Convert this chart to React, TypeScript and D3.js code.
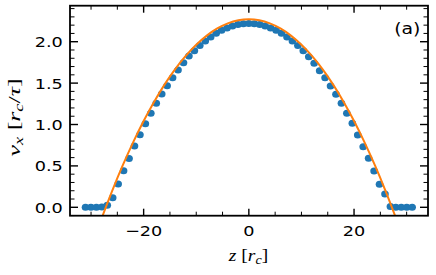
import React from "react";
import * as d3 from "d3";

// measured profile: positions z (in r_c) and velocities v_x (in r_c/tau)
const zValues = [
  -31.05, -30.02, -28.98, -27.95, -26.91, -25.88, -24.84, -23.81, -22.77, -21.74,
  -20.7, -19.67, -18.63, -17.6, -16.56, -15.53, -14.49, -13.46, -12.42, -11.39,
  -10.35, -9.32, -8.28, -7.25, -6.21, -5.18, -4.14, -3.11, -2.07, -1.04,
  0,
  1.04, 2.07, 3.11, 4.14, 5.18, 6.21, 7.25, 8.28, 9.32, 10.35,
  11.39, 12.42, 13.46, 14.49, 15.53, 16.56, 17.6, 18.63, 19.67, 20.7,
  21.74, 22.77, 23.81, 24.84, 25.88, 26.91, 27.95, 28.98, 30.02, 31.05,
];
const vValues = [
  0, 0, 0, 0.005, 0.025, 0.116, 0.28, 0.44, 0.59, 0.74,
  0.877, 1.01, 1.135, 1.256, 1.368, 1.469, 1.565, 1.658, 1.746, 1.827,
  1.89, 1.953, 2.009, 2.058, 2.101, 2.137, 2.167, 2.19, 2.207, 2.217,
  2.22,
  2.217, 2.207, 2.19, 2.167, 2.137, 2.101, 2.058, 2.009, 1.953, 1.89,
  1.819, 1.739, 1.65, 1.565, 1.465, 1.365, 1.256, 1.135, 1.014, 0.873,
  0.732, 0.592, 0.438, 0.278, 0.161, 0.01, 0, 0, 0, 0,
];

// fitted curve (orange)
const fitZ = [-30, -28, -26, -24, -22, -20, -18, -16, -14, -12, -10, -8, -6, -4, -2, 0,
  2, 4, 6, 8, 10, 12, 14, 16, 18, 20, 22, 24, 26, 28, 30];
const fitV = [-0.491, -0.136, 0.196, 0.503, 0.785, 1.043, 1.276, 1.485, 1.669, 1.828, 1.963,
  2.074, 2.16, 2.221, 2.258, 2.27, 2.258, 2.221, 2.16, 2.074, 1.963, 1.828, 1.669, 1.485,
  1.276, 1.043, 0.785, 0.503, 0.196, -0.136, -0.491];

const xMajorTicks = [-20, 0, 20];
const xMajorLabels = ["\u221220", "0", "20"];
const xMinorTicks = [-30, -25, -15, -10, -5, 5, 10, 15, 25, 30];
const yMajorTicks = [0, 0.5, 1.0, 1.5, 2.0];
const yMajorLabels = ["0.0", "0.5", "1.0", "1.5", "2.0"];
const yMinorTicks = [-0.1, 0.1, 0.2, 0.3, 0.4, 0.6, 0.7, 0.8, 0.9, 1.1, 1.2, 1.3, 1.4,
  1.6, 1.7, 1.8, 1.9, 2.1, 2.2, 2.3, 2.4];

const W = 436;
const H = 275;
const L = 70, R = 428, T = 5.7, B = 215.7;
const SX = 1.22; // horizontal text stretch seen in the reference

export default function App() {
  const x = d3.scaleLinear().domain([-34.0, 34.06]).range([L, R]);
  const y = d3.scaleLinear().domain([-0.1015, 2.435]).range([B, T]);
  const line = d3
    .line<number>()
    .x((_, i) => x(fitZ[i]))
    .y((d) => y(d))
    .curve(d3.curveCatmullRom);

  const majLenV = 7, minLenV = 4;
  const majLenH = 8, minLenH = 4.5;
  const tickFont = 14.5;

  return (
    <svg
      width={W}
      height={H}
      style={{ position: "absolute", left: 0, top: 0, background: "#fff" }}
      fontFamily="DejaVu Sans"
    >
      <defs>
        <clipPath id="plotclip">
          <rect x={L} y={T} width={R - L} height={B - T} />
        </clipPath>
      </defs>
      <rect x={0} y={0} width={W} height={H} fill="#fff" />

      <g clipPath="url(#plotclip)">
        {zValues.map((z, i) => (
          <ellipse key={i} cx={x(z)} cy={y(vValues[i])} rx={3.8} ry={3.5} fill="#1f77b4" />
        ))}
        <path d={line(fitV) || ""} fill="none" stroke="#ff7f0e" strokeWidth={2} />
      </g>

      {/* ticks */}
      <g stroke="#000">
        {xMajorTicks.map((t) => (
          <g key={"xM" + t} strokeWidth={1.4}>
            <line x1={x(t)} x2={x(t)} y1={B} y2={B - majLenV} />
            <line x1={x(t)} x2={x(t)} y1={T} y2={T + majLenV} />
          </g>
        ))}
        {xMinorTicks.map((t) => (
          <g key={"xm" + t} strokeWidth={1}>
            <line x1={x(t)} x2={x(t)} y1={B} y2={B - minLenV} />
            <line x1={x(t)} x2={x(t)} y1={T} y2={T + minLenV} />
          </g>
        ))}
        {yMajorTicks.map((t) => (
          <g key={"yM" + t} strokeWidth={1.4}>
            <line x1={L} x2={L + majLenH} y1={y(t)} y2={y(t)} />
            <line x1={R} x2={R - majLenH} y1={y(t)} y2={y(t)} />
          </g>
        ))}
        {yMinorTicks.map((t) => (
          <g key={"ym" + t} strokeWidth={1}>
            <line x1={L} x2={L + minLenH} y1={y(t)} y2={y(t)} />
            <line x1={R} x2={R - minLenH} y1={y(t)} y2={y(t)} />
          </g>
        ))}
      </g>

      <rect x={L} y={T} width={R - L} height={B - T} fill="none" stroke="#000" strokeWidth={1.8} />

      {/* tick labels */}
      {xMajorTicks.map((t, i) => (
        <text
          key={"xl" + t}
          transform={`translate(${x(t)},235.7) scale(${SX},1)`}
          textAnchor="middle"
          fontSize={tickFont}
          fill="#000"
        >
          {xMajorLabels[i]}
        </text>
      ))}
      {yMajorTicks.map((t, i) => (
        <text
          key={"yl" + t}
          transform={`translate(62.8,${y(t) + 5.4}) scale(${SX},1)`}
          textAnchor="end"
          fontSize={tickFont}
          fill="#000"
        >
          {yMajorLabels[i]}
        </text>
      ))}

      {/* axis labels */}
      <text
        transform={`translate(248.5,260.5) scale(${SX},1)`}
        textAnchor="middle"
        fontFamily="Liberation Serif"
        fontSize={16}
        fill="#000"
      >
        <tspan fontStyle="italic">z</tspan>
        <tspan> [</tspan>
        <tspan fontStyle="italic">r</tspan>
        <tspan fontStyle="italic" fontSize={11.5} dy={3}>c</tspan>
        <tspan dy={-3}>]</tspan>
      </text>
      <text
        transform={`translate(20,117.4) rotate(-90)`}
        textAnchor="middle"
        fontFamily="Liberation Serif"
        fontSize={17}
        fill="#000"
        textLength={78}
        lengthAdjust="spacingAndGlyphs"
      >
        <tspan fontStyle="italic">v</tspan>
        <tspan fontStyle="italic" fontSize={12} dy={3}>x</tspan>
        <tspan dy={-3}> [</tspan>
        <tspan fontStyle="italic">r</tspan>
        <tspan fontStyle="italic" fontSize={12} dy={3}>c</tspan>
        <tspan dy={-3}>/</tspan>
        <tspan fontStyle="italic">τ</tspan>
        <tspan>]</tspan>
      </text>

      <text
        transform={`translate(420.5,34) scale(${SX},1)`}
        textAnchor="end"
        fontSize={15.5}
        fill="#000"
      >
        (a)
      </text>
    </svg>
  );
}
